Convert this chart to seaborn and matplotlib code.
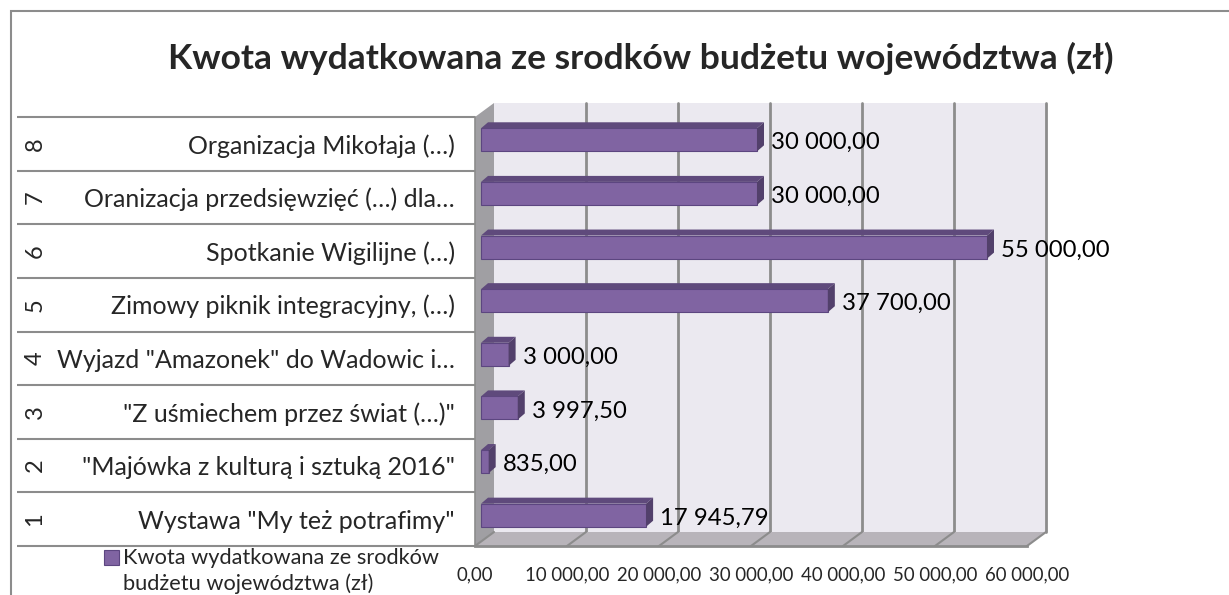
import numpy as np
import pandas as pd
import seaborn as sns
import matplotlib
matplotlib.use('Agg')
import matplotlib.pyplot as plt
from matplotlib.patches import Polygon, Rectangle
from matplotlib.transforms import offset_copy, IdentityTransform

# dane
numery = [8, 7, 6, 5, 4, 3, 2, 1]
nazwy = ['Organizacja Mikołaja (…)',
         'Oranizacja przedsięwzięć (…) dla…',
         'Spotkanie Wigilijne (…)',
         'Zimowy piknik integracyjny, (…)',
         'Wyjazd "Amazonek" do Wadowic i…',
         '"Z uśmiechem przez świat (…)"',
         '"Majówka z kulturą i sztuką 2016"',
         'Wystawa "My też potrafimy"']
kwoty = [30000.00, 30000.00, 55000.00, 37700.00, 3000.00, 3997.50, 835.00, 17945.79]
ticki = [0, 10000, 20000, 30000, 40000, 50000, 60000]
tytul = 'Kwota wydatkowana ze srodków budżetu województwa (zł)'
legenda = 'Kwota wydatkowana ze srodków\nbudżetu województwa (zł)'

def fmt(v):
    return f'{v:,.2f}'.replace(',', ' ').replace('.', ',')

sns.set_style('white')
plt.rcParams['font.family'] = ['Lato', 'DejaVu Sans']

fioletowy = '#8064A2'
gora = '#5F4A7C'
bok = '#52406B'
szary = '#8C8C8C'

W, H = 1229, 595
fig = plt.figure(figsize=(W / 100, H / 100), dpi=100)
ax = fig.add_axes([475 / W, 1 - 546 / H, 552 / W, 429 / H])
ax.patch.set_visible(False)

df = pd.DataFrame({'nazwa': nazwy, 'kwota': kwoty})
sns.barplot(data=df, x='kwota', y='nazwa', orient='h', color=fioletowy,
            saturation=1, width=0.43, ax=ax, zorder=3)
ax.set_xlim(0, 60000)
ax.set_ylim(7.5, -0.5)

# sciany 3D
dx_b, dy_b = 19, 14
sciana = Rectangle((0, 0), 1, 1, transform=offset_copy(ax.transAxes, fig=fig, x=dx_b, y=dy_b, units='dots'),
                   facecolor='#EBE9F0', edgecolor='none', zorder=0.5, clip_on=False)
ax.add_patch(sciana)
t_back = offset_copy(ax.transData, fig=fig, x=dx_b, y=dy_b, units='dots')
for v in ticki[1:]:
    ax.plot([v, v], [7.5, -0.5], transform=t_back, color=szary, lw=2, zorder=0.6, clip_on=False)

p = ax.transAxes.transform([(0, 0), (0, 1), (1, 0)])
lewa = np.array([p[0], p[1], p[1] + [dx_b, dy_b], p[0] + [dx_b, dy_b]])
ax.add_patch(Polygon(lewa, closed=True, transform=IdentityTransform(), facecolor='#A09FA3',
                     edgecolor='none', zorder=0.7, clip_on=False))
podloga = np.array([p[0], p[2], p[2] + [dx_b, dy_b], p[0] + [dx_b, dy_b]])
ax.add_patch(Polygon(podloga, closed=True, transform=IdentityTransform(), facecolor='#B8B4BA',
                     edgecolor='none', zorder=0.7, clip_on=False))
for v in ticki:
    a = ax.transData.transform((v, 7.5))
    ax.plot([a[0], a[0] + dx_b], [a[1], a[1] + dy_b], transform=IdentityTransform(),
            color=szary, lw=1.5, zorder=0.8, clip_on=False)

# slupki 3D
ox, oy = 6, 4
dx, dy = 7, 6
t_bar = offset_copy(ax.transData, fig=fig, x=ox, y=oy, units='dots')
for bar in ax.patches[:]:
    if not isinstance(bar, Rectangle) or bar is sciana:
        continue
    bar.set_transform(t_bar)
    bar.set_edgecolor('#5C4680')
    bar.set_linewidth(0.8)
    c = ax.transData.transform([(bar.get_x(), bar.get_y()),
                                (bar.get_x() + bar.get_width(), bar.get_y() + bar.get_height())]) + [ox, oy]
    xl, xr = c[:, 0].min(), c[:, 0].max()
    yb, yt = c[:, 1].min(), c[:, 1].max()
    ax.add_patch(Polygon([(xl, yt), (xr, yt), (xr + dx, yt + dy), (xl + dx, yt + dy)], closed=True,
                         transform=IdentityTransform(), facecolor=gora, edgecolor='none', zorder=3, clip_on=False))
    ax.add_patch(Polygon([(xr, yb), (xr, yt), (xr + dx, yt + dy), (xr + dx, yb + dy)], closed=True,
                         transform=IdentityTransform(), facecolor=bok, edgecolor='none', zorder=3, clip_on=False))

# etykiety wartosci
for i, v in enumerate(kwoty):
    ax.annotate(fmt(v), (v, i), xytext=(ox + dx + 7, 1), textcoords='offset pixels',
                ha='left', va='center', fontsize=17.2, color='black', zorder=5)

# osie
ax.set_xticks(ticki)
ax.set_xticklabels([fmt(t) for t in ticki])
ax.tick_params(axis='x', length=5, width=1.5, color=szary, pad=10, labelsize=13.4)
ax.tick_params(axis='y', length=0, pad=14.5, labelsize=18)
ax.set_xlabel('')
ax.set_ylabel('')
for s in ['top', 'right']:
    ax.spines[s].set_visible(False)
ax.spines['bottom'].set_color(szary)
ax.spines['bottom'].set_linewidth(2)
ax.spines['left'].set_color(szary)
ax.spines['left'].set_linewidth(1.2)

# tabela kategorii
ax.hlines(np.arange(-0.5, 8, 1), xmin=(17 - 475) / 552, xmax=0, transform=ax.get_yaxis_transform(),
          colors=szary, lw=1.5, clip_on=False)
for i, n in enumerate(numery):
    ax.text((35 - 475) / 552, i, str(n), rotation=90, ha='center', va='center', fontsize=17,
            transform=ax.get_yaxis_transform())

# tytul, ramka, legenda
fig.text(641 / W, 1 - 58 / H, tytul, ha='center', va='center', fontsize=25.5, fontweight='bold')
fig.add_artist(Rectangle((11 / W, -0.1), 1.2, 1.1 - 11 / H, transform=fig.transFigure,
                         fill=False, edgecolor=szary, lw=1.5))
fig.add_artist(Rectangle((104 / W, 1 - 565 / H), 15 / W, 15 / H, transform=fig.transFigure,
                         facecolor=fioletowy, edgecolor='#5C4680', lw=0.8))
fig.text(123 / W, 1 - 548 / H, legenda, ha='left', va='top', fontsize=15.7, linespacing=1.35)

fig.savefig('out.png', dpi=100)
